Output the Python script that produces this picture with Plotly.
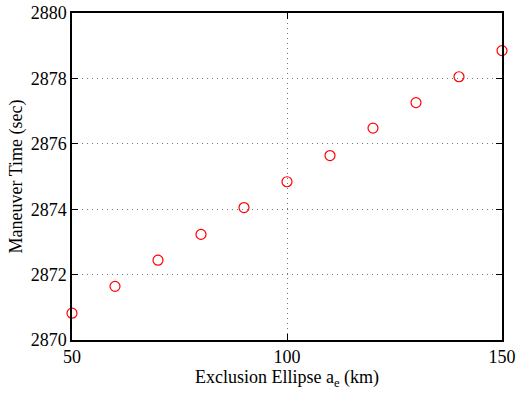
import plotly.graph_objects as go

# Exclusion ellipse semi-major axis (km) vs. maneuver time (sec)
ellipse_km = [50, 60, 70, 80, 90, 100, 110, 120, 130, 140, 150]
maneuver_time = [2870.82, 2871.64, 2872.44, 2873.23, 2874.05, 2874.84,
                 2875.64, 2876.48, 2877.26, 2878.05, 2878.85]

x_ticks = [50, 100, 150]
y_ticks = [2870, 2872, 2874, 2876, 2878, 2880]

font = dict(family="Liberation Serif, Times New Roman, serif", size=18, color="black")

fig = go.Figure(
    go.Scatter(
        x=ellipse_km,
        y=maneuver_time,
        mode="markers",
        marker=dict(symbol="circle-open", size=10, color="red", line=dict(width=1.2, color="red")),
        cliponaxis=False,
    )
)

axis_common = dict(
    showline=True,
    linecolor="black",
    linewidth=1.5,
    mirror="ticks",
    ticks="inside",
    ticklen=6,
    tickwidth=1,
    tickcolor="black",
    showgrid=True,
    gridcolor="#777777",
    griddash="1px,4px",
    gridwidth=1,
    zeroline=False,
    tickfont=font,
    automargin=False,
)

fig.update_xaxes(
    range=[50, 150],
    tickvals=x_ticks,
    ticktext=[str(v) for v in x_ticks],
    title=dict(text="Exclusion Ellipse a<sub>e</sub> (km)", font=font, standoff=4),
    **axis_common,
)
fig.update_yaxes(
    range=[2870, 2880],
    tickvals=y_ticks,
    ticktext=[str(v) for v in y_ticks],
    title=dict(text="Maneuver Time (sec)", font=font, standoff=3),
    **axis_common,
)

fig.update_layout(
    width=516,
    height=394,
    margin=dict(l=72, r=14, t=13, b=54),
    paper_bgcolor="white",
    plot_bgcolor="white",
    showlegend=False,
    font=font,
)

fig.write_html("out.html")
